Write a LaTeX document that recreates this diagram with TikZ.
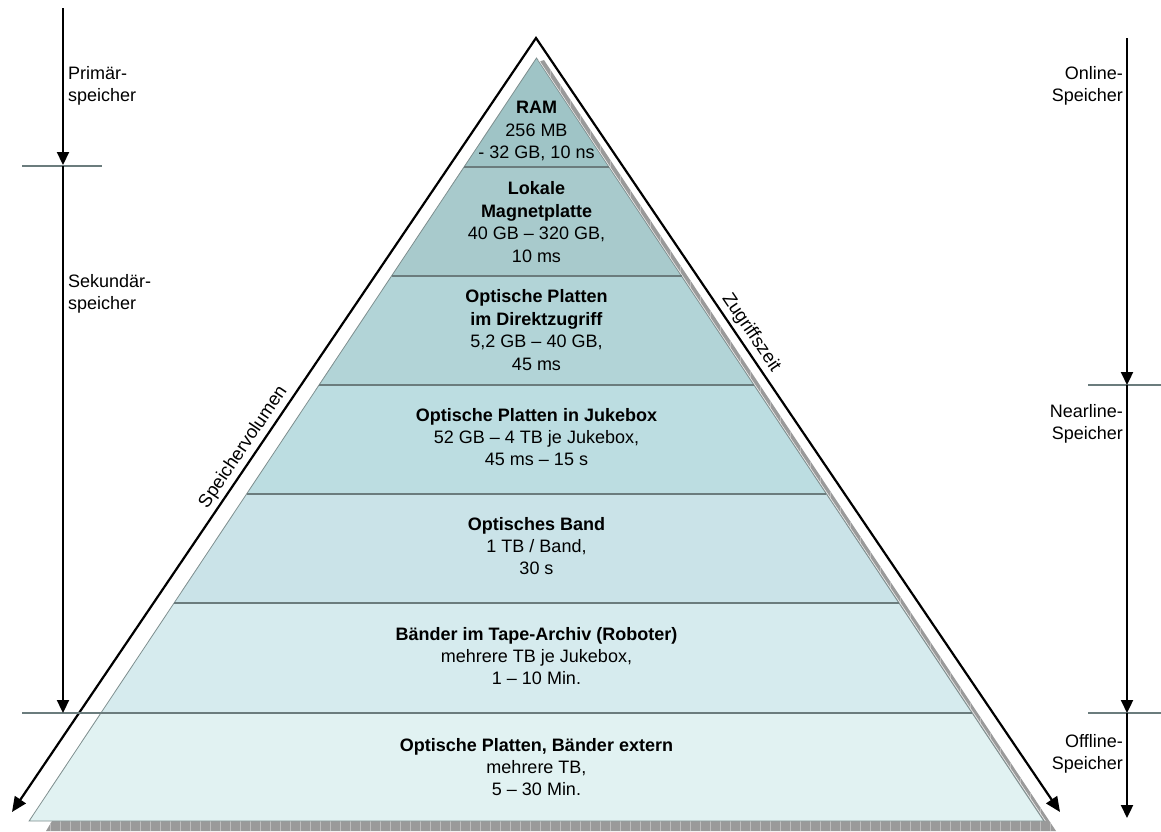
\documentclass[tikz,border=0pt]{standalone}
\usepackage{fontspec}
\setmainfont{Liberation Sans}
\usetikzlibrary{arrows.meta,calc}
\definecolor{cA}{HTML}{9FC4C6}
\definecolor{cB}{HTML}{A8CACC}
\definecolor{cC}{HTML}{B2D4D7}
\definecolor{cD}{HTML}{BCDDE1}
\definecolor{cE}{HTML}{CAE3E8}
\definecolor{cF}{HTML}{D6EBEE}
\definecolor{cG}{HTML}{E1F2F2}
\definecolor{divline}{HTML}{6B7C7D}
\definecolor{edgeline}{HTML}{7E8E8E}
\definecolor{shadowfill}{HTML}{9A9A9A}
\definecolor{shadowgrid}{HTML}{BDBDBD}
\begin{document}
\begin{tikzpicture}[x=1pt,y=-1pt,
  layertext/.style={align=center, font=\fontsize{18}{22.4}\selectfont, inner sep=0pt},
  sidelabel/.style={font=\fontsize{18}{22}\selectfont, inner sep=0pt},
  axislabel/.style={font=\fontsize{18.5}{22}\selectfont, inner sep=4pt, anchor=south},
  blackarrow/.style={line width=2.2pt, -{Triangle[length=13pt,width=12pt]}},
  diagarrow/.style={line width=2.2pt, line join=miter, {Triangle[length=15pt,width=13pt]}-{Triangle[length=15pt,width=13pt]}},
  tickline/.style={draw=divline, line width=1.3pt},
  divider/.style={draw=divline, line width=2pt},
]
\useasboundingbox (0,0) rectangle (1161,831);

% shadow
\coordinate (s1) at (538,62);
\coordinate (s2) at (544,60);
\coordinate (s3) at (1056,831);
\coordinate (s4) at (46,831);
\coordinate (s5) at (52,821);
\fill[shadowfill] (s1) -- (s2) -- (s3) -- (s4) -- (s5) -- cycle;
\begin{scope}
  \clip (s1) -- (s2) -- (s3) -- (s4) -- (s5) -- cycle;
  \draw[shadowgrid, line width=0.6pt, xstep=10, ystep=5] (0,0) grid (1161,831);
\end{scope}

% layers
\coordinate (p0) at (536.5,58);
\coordinate (a1) at (464.0,167); \coordinate (b1) at (609.0,167);
\coordinate (a2) at (391.5,276); \coordinate (b2) at (681.5,276);
\coordinate (a3) at (319.0,385); \coordinate (b3) at (754.0,385);
\coordinate (a4) at (246.6,494); \coordinate (b4) at (826.4,494);
\coordinate (a5) at (174.1,603); \coordinate (b5) at (898.9,603);
\coordinate (a6) at (100.9,713); \coordinate (b6) at (972.1,713);
\coordinate (a7) at (29.1,821);  \coordinate (b7) at (1043.9,821);

\fill[cA] (p0) -- (b1) -- (a1) -- cycle;
\fill[cB] (a1) -- (b1) -- (b2) -- (a2) -- cycle;
\fill[cC] (a2) -- (b2) -- (b3) -- (a3) -- cycle;
\fill[cD] (a3) -- (b3) -- (b4) -- (a4) -- cycle;
\fill[cE] (a4) -- (b4) -- (b5) -- (a5) -- cycle;
\fill[cF] (a5) -- (b5) -- (b6) -- (a6) -- cycle;
\fill[cG] (a6) -- (b6) -- (b7) -- (a7) -- cycle;
\draw[edgeline, line width=0.8pt, line join=miter] (p0) -- (b7) -- (a7) -- cycle;
\draw[white!85!gray, line width=0.6pt] ($(p0)+(1.5,1)$) -- ($(b7)+(1.5,0)$);

\foreach \i in {1,...,6} {
  \draw[divider] (a\i) -- (b\i);
}

% layer texts
\node[layertext] (ram) at (536.5,131) {\textbf{RAM}\\256 MB\\- 32 GB, 10 ns};
\node[layertext] (lokal) at (536.5,222) {\textbf{Lokale}\\\textbf{Magnetplatte}\\40 GB – 320 GB,\\10 ms};
\node[layertext] (direkt) at (536.5,330) {\textbf{Optische Platten}\\\textbf{im Direktzugriff}\\5,2 GB – 40 GB,\\45 ms};
\node[layertext] (jukebox) at (536.5,437) {\textbf{Optische Platten in Jukebox}\\52 GB – 4 TB je Jukebox,\\45 ms – 15 s};
\node[layertext] (band) at (536.5,546) {\textbf{Optisches Band}\\1 TB / Band,\\30 s};
\node[layertext] (archiv) at (536.5,656) {\textbf{Bänder im Tape-Archiv (Roboter)}\\mehrere TB je Jukebox,\\1 – 10 Min.};
\node[layertext] (extern) at (536.5,767) {\textbf{Optische Platten, Bänder extern}\\mehrere TB,\\5 – 30 Min.};

% diagonal axes
\coordinate (apex) at (536,38);
\coordinate (ltip) at (12,812);
\coordinate (rtip) at (1060,812);
\draw[diagarrow] (ltip) -- (apex) -- (rtip);
\node[axislabel, rotate=55.9] (vol) at ($(apex)!0.538!(ltip)$) {Speichervolumen};
\node[axislabel, rotate=-55.9] (zeit) at ($(apex)!0.39!(rtip)$) {Zugriffszeit};

% left vertical scale
\coordinate (l0) at (63,8);
\coordinate (l1) at (63,165);
\coordinate (l1b) at (63,166);
\coordinate (l2) at (63,713);
\coordinate (lt1a) at (22,166); \coordinate (lt1b) at (102,166);
\coordinate (lt2a) at (22,713);
\draw[tickline] (lt1a) -- (lt1b);
\draw[divider] (lt2a) -- (a6);
\draw[blackarrow] (l0) -- (l1);
\draw[blackarrow] (l1b) -- (l2);
\node[sidelabel, align=left, anchor=west] (prim) at (68,86) {Primär-\\speicher};
\node[sidelabel, align=left, anchor=west] (sek) at (68,294) {Sekundär-\\speicher};

% right vertical scale
\coordinate (r0) at (1127,38);
\coordinate (r1) at (1127,385);
\coordinate (r2) at (1127,713);
\coordinate (r3) at (1127,818);
\coordinate (rt1a) at (1088,385); \coordinate (rt1b) at (1161,385);
\coordinate (rt2a) at (1088,713); \coordinate (rt2b) at (1161,713);
\draw[tickline] (rt1a) -- (rt1b);
\draw[tickline, line width=1.6pt] (rt2a) -- (rt2b);
\draw[blackarrow] (r0) -- (r1);
\draw[blackarrow] (r1) -- (r2);
\draw[blackarrow] (r2) -- (r3);
\node[sidelabel, align=right, anchor=east] (online) at (1123,86) {Online-\\Speicher};
\node[sidelabel, align=right, anchor=east] (near) at (1123,424) {Nearline-\\Speicher};
\node[sidelabel, align=right, anchor=east] (off) at (1123,754) {Offline-\\Speicher};
\end{tikzpicture}
\end{document}
